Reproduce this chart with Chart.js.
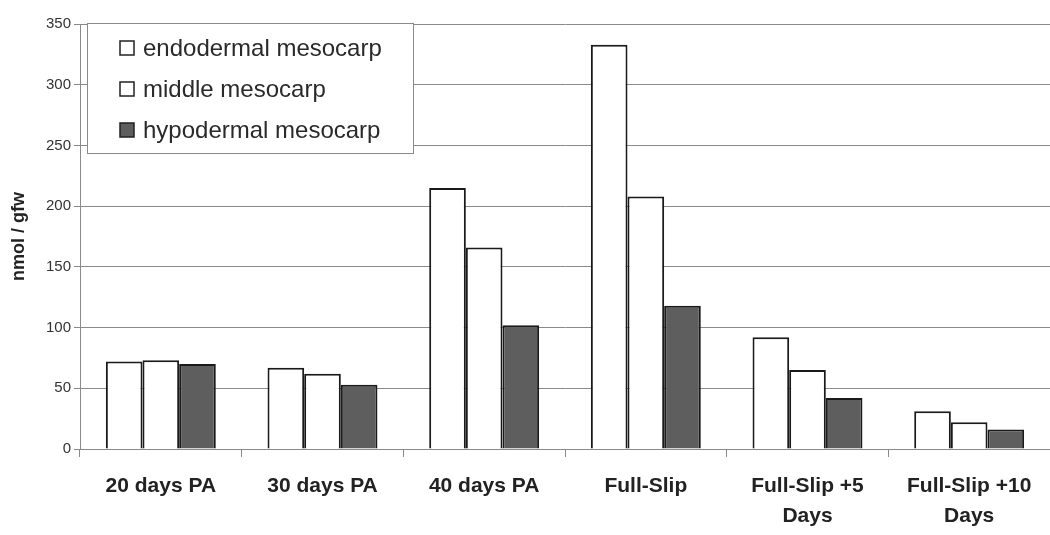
<!DOCTYPE html>
<html>
<head>
<meta charset="utf-8">
<script src="https://cdn.jsdelivr.net/npm/chart.js@4/dist/chart.umd.min.js"></script>
<style>
  html, body { margin: 0; padding: 0; background: #ffffff; }
  #wrap { width: 1050px; height: 535px; position: relative; }
</style>
</head>
<body>
<div id="wrap"><canvas id="c" width="1050" height="535"></canvas></div>
<script>
const categories = [
  '20 days PA',
  '30 days PA',
  '40 days PA',
  'Full-Slip',
  ['Full-Slip +5', 'Days'],
  ['Full-Slip +10', 'Days']
];
const seriesNames = ['endodermal mesocarp', 'middle mesocarp', 'hypodermal mesocarp'];
const endodermal = [72, 67, 215, 333, 92, 31];
const middle     = [73, 62, 166, 208, 65, 22];
const hypodermal = [70, 53, 102, 118, 42, 16];
const yMin = 0, yMax = 350, yStep = 50;
const yTitle = 'nmol / gfw';

const fills = ['#ffffff', '#ffffff', '#5e5e5e'];

const legendPlugin = {
  id: 'boxLegend',
  afterDatasetsDraw(chart) {
    const ctx = chart.ctx;
    const x0 = 87, y0 = 23, w = 326, h = 130;
    ctx.save();
    ctx.fillStyle = '#ffffff';
    ctx.fillRect(x0, y0, w, h);
    ctx.strokeStyle = '#8a8a8a';
    ctx.lineWidth = 1;
    ctx.strokeRect(x0 + 0.5, y0 + 0.5, w, h);
    ctx.font = '24px Arial, "Liberation Sans", sans-serif';
    ctx.textBaseline = 'middle';
    chart.data.datasets.forEach((ds, i) => {
      const cy = 48 + i * 41;
      ctx.fillStyle = ds.backgroundColor;
      ctx.fillRect(120, cy - 7, 14, 14);
      ctx.strokeStyle = '#222';
      ctx.lineWidth = 1.5;
      ctx.strokeRect(120, cy - 7, 14, 14);
      ctx.fillStyle = '#2a2a2a';
      ctx.fillText(ds.label, 143, cy + 1);
    });
    ctx.restore();
  }
};

const datasets = [endodermal, middle, hypodermal].map((vals, i) => ({
  label: seriesNames[i],
  data: vals,
  backgroundColor: fills[i],
  borderColor: '#1a1a1a',
  borderWidth: 2,
  borderSkipped: 'bottom',
  categoryPercentage: 0.68,
  barPercentage: 1.0
}));

new Chart(document.getElementById('c'), {
  type: 'bar',
  data: { labels: categories, datasets: datasets },
  plugins: [legendPlugin],
  options: {
    responsive: false,
    animation: false,
    layout: { padding: { top: 24, right: 0, left: 0, bottom: 0 } },
    plugins: { legend: { display: false }, tooltip: { enabled: false } },
    scales: {
      x: {
        afterFit(scale) { scale.height = 86; },
        grid: {
          display: true,
          drawOnChartArea: false,
          drawTicks: true,
          tickLength: 8,
          color: '#8a8a8a',
          offset: true
        },
        border: { display: true, color: '#8a8a8a', width: 1 },
        ticks: {
          color: '#222',
          font: { family: 'Arial, "Liberation Sans", sans-serif', size: 21, weight: 'bold', lineHeight: 1.45 },
          padding: 14,
          maxRotation: 0,
          autoSkip: false
        }
      },
      y: {
        min: yMin,
        max: yMax,
        afterFit(scale) { scale.width = 80; },
        title: {
          display: true,
          text: yTitle,
          color: '#222',
          font: { family: 'Arial, "Liberation Sans", sans-serif', size: 18, weight: 'bold' },
          padding: { top: 8, bottom: 0 }
        },
        grid: {
          color: '#8a8a8a',
          lineWidth: 1,
          drawTicks: true,
          tickLength: 6
        },
        border: { display: true, color: '#8a8a8a', width: 1 },
        ticks: {
          stepSize: yStep,
          color: '#333',
          font: { family: 'Arial, "Liberation Sans", sans-serif', size: 15 },
          padding: 3
        }
      }
    }
  }
});
</script>
</body>
</html>
